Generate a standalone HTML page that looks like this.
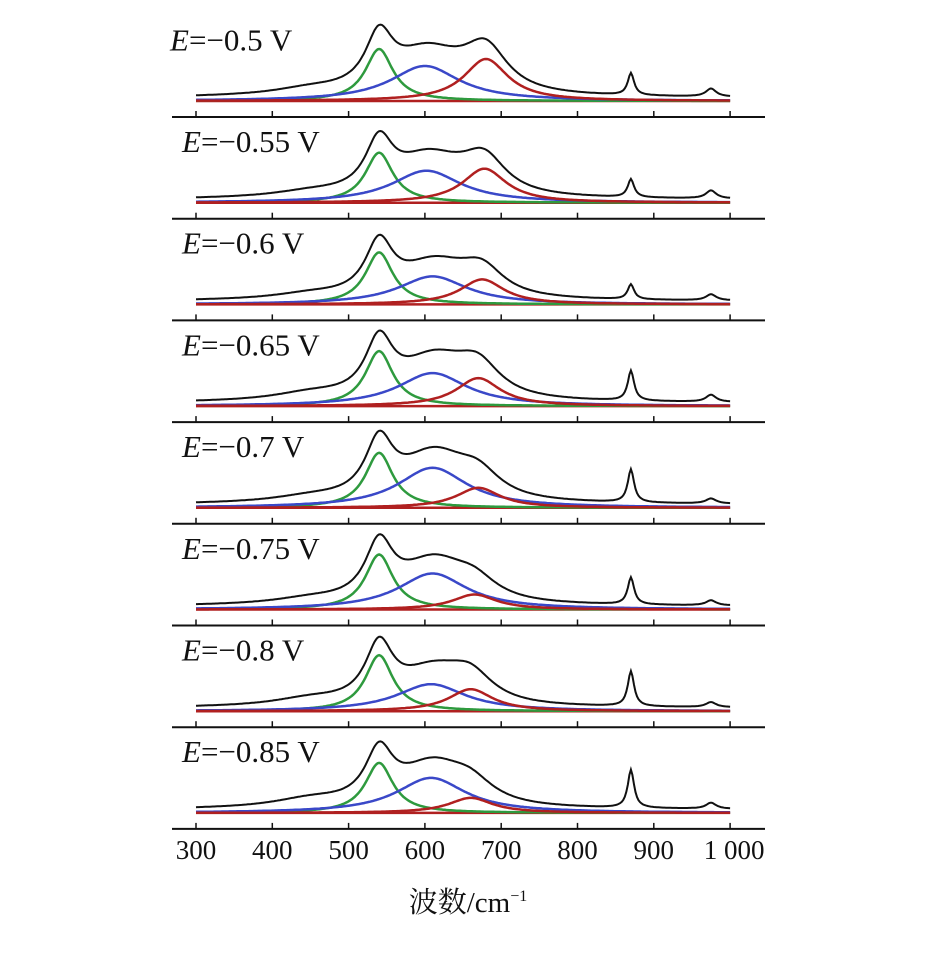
<!DOCTYPE html>
<html><head><meta charset="utf-8">
<style>
html,body{margin:0;padding:0;background:#fff;}
svg{display:block;}
text{font-family:"Liberation Serif","Noto Serif CJK SC",serif;fill:#111;}
</style></head>
<body>
<svg id="chart" width="926" height="957" viewBox="0 0 926 957" xmlns="http://www.w3.org/2000/svg"></svg>
<script>
// ---- data ----
const potentials = ["−0.5","−0.55","−0.6","−0.65","−0.7","−0.75","−0.8","−0.85"];
const greenAmp = [52,50,52,55,55,55,56,50];
const greenCenter = [540,540,540,540,540,540,540,540];
const blueAmp = [35,32,28,33,40,36,27,35];
const blueCenter = [600,602,610,610,610,610,608,608];
const redAmp = [42,34,25,28,20,15,22,15];
const redCenter = [680,678,675,670,670,665,660,660];
const peak870Amp = [22,18,15,30,33,27,35,38];
const peak975Amp = [8,8,6,7,5,5,5,6];
const shoulderAmp = [6,5,5,7,5,5,7,8];
const plateauAmp = [8,8,7,8,8,7,8,8];
const tickValues = [300,400,500,600,700,800,900,1000];
const tickLabels = ["300","400","500","600","700","800","900","1 000"];

// ---- axis functions ----
const X0=196, PX_PER=0.763;
function xs(v){return X0+(v-300)*PX_PER;}
const SEP0=117, SEP_STEP=101.7;
function sepY(i){return SEP0+SEP_STEP*i;}
function baseY(i){return sepY(i)-16;}
function lor(x,c,w){return 1/(1+((x-c)/w)*((x-c)/w));}
function gau(x,c,w){return Math.exp(-((x-c)/w)*((x-c)/w));}

const svg=document.getElementById('chart');
const NS='http://www.w3.org/2000/svg';
function mk(tag,attrs){const e=document.createElementNS(NS,tag);for(const k in attrs)e.setAttribute(k,attrs[k]);svg.appendChild(e);return e;}

function curvePath(i,fn){
  let d='';
  for(let v=300;v<=1000;v+=2){
    const y=baseY(i)-fn(v);
    d+=(v===300?'M':'L')+xs(v).toFixed(1)+','+y.toFixed(1);
  }
  return d;
}

for(let i=0;i<8;i++){
  const y=sepY(i);
  const ln=mk('line',{x1:172,x2:765,y1:y,y2:y,stroke:'#111','stroke-width':2});
  
  
  tickValues.forEach(t=>{
    const tk=mk('line',{x1:xs(t),x2:xs(t),y1:y,y2:y-6,stroke:'#111','stroke-width':1.5});
    
    
  });
}

for(let i=0;i<8;i++){
  const g=v=>greenAmp[i]*lor(v,greenCenter[i],22);
  const b=v=>blueAmp[i]*lor(v,blueCenter[i],55);
  const r=v=>redAmp[i]*lor(v,redCenter[i],35);
  const tot=v=>g(v)+b(v)+r(v)+peak870Amp[i]*lor(v,870,5)+peak975Amp[i]*lor(v,975,8)+shoulderAmp[i]*lor(v,450,60)+plateauAmp[i]*gau(v,630,60)+3;
  const base=mk('line',{x1:xs(300),x2:xs(1000),y1:baseY(i),y2:baseY(i),stroke:'#b02020','stroke-width':2.5});
  
  
  const pg=mk('path',{d:curvePath(i,g),fill:'none',stroke:'#2e9a3e','stroke-width':2.5});
  
  
  const pb=mk('path',{d:curvePath(i,b),fill:'none',stroke:'#3a48c8','stroke-width':2.5});
  
  
  const pr=mk('path',{d:curvePath(i,r),fill:'none',stroke:'#b02020','stroke-width':2.5});
  
  
  const pt=mk('path',{d:curvePath(i,tot),fill:'none',stroke:'#111','stroke-width':2});
  
  
  const lbl=mk('text',{x:i===0?170:182,y:sepY(i)-SEP_STEP+35,'font-size':31});
  
  
  lbl.innerHTML='<tspan font-style="italic">E</tspan>=' + potentials[i] + ' V';
}

tickValues.forEach((t,k)=>{
  const tl=mk('text',{x:xs(t)+(k===7?4:0),y:859,'font-size':27,'text-anchor':'middle'});
  
  
  tl.textContent=tickLabels[k];
});
const title=mk('text',{x:468,y:912,'font-size':29,'text-anchor':'middle'});


title.innerHTML='波数/cm<tspan font-size="16" dy="-11">−1</tspan>';
</script>
</body></html>
